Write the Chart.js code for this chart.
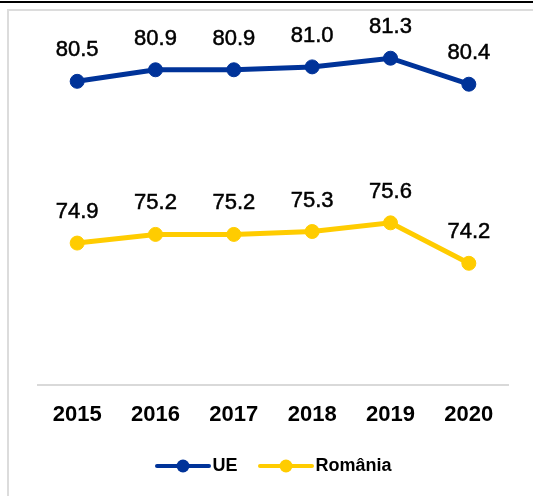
<!DOCTYPE html>
<html><head><meta charset="utf-8">
<script src="https://cdn.jsdelivr.net/npm/chart.js@4/dist/chart.umd.min.js"></script>
<style>
html,body{margin:0;padding:0;background:#fff;}
#wrap{position:relative;width:533px;height:496px;overflow:hidden;}
#topline{position:absolute;left:0;top:1px;width:533px;height:2px;background:#000;}
#frame{position:absolute;left:7px;top:9px;width:540px;height:500px;border-left:2px solid #dcdcdc;border-top:2px solid #dcdcdc;}
canvas{position:absolute;left:0;top:0;}
</style></head>
<body>
<div id="wrap">
<div id="topline"></div>
<div id="frame"></div>
<canvas id="c" width="533" height="496"></canvas>
</div>
<script>
const years = ['2015','2016','2017','2018','2019','2020'];
const ueValues = [80.5, 80.9, 80.9, 81.0, 81.3, 80.4];
const roValues = [74.9, 75.2, 75.2, 75.3, 75.6, 74.2];
const seriesNames = ['UE', 'România'];
const blue = '#003399';
const yellow = '#FFCC00';
const FONT = "'Liberation Sans', Arial, sans-serif";

function legendImg(color){
  const c = document.createElement('canvas');
  c.width = 56; c.height = 16;
  const x = c.getContext('2d');
  x.strokeStyle = color; x.lineWidth = 4; x.lineCap = 'round';
  x.beginPath(); x.moveTo(2,8); x.lineTo(54,8); x.stroke();
  x.fillStyle = color; x.beginPath(); x.arc(28,8,6.5,0,Math.PI*2); x.fill();
  return c;
}

const dataLabels = {
  id:'dataLabels',
  afterLayout(chart){
    if (chart.legend){ chart.legend.left += 4; chart.legend.right += 4; }
  },
  afterDatasetsDraw(chart){
    const ctx = chart.ctx;
    ctx.save();
    ctx.font = "22px " + FONT;
    ctx.fillStyle = '#000';
    ctx.strokeStyle = '#000';
    ctx.lineWidth = 0.5;
    ctx.textAlign = 'center';
    ctx.textBaseline = 'middle';
    chart.data.datasets.forEach((ds,i)=>{
      chart.getDatasetMeta(i).data.forEach((pt,j)=>{
        const t = ds.data[j].toFixed(1);
        ctx.fillText(t, pt.x, pt.y - 31);
        ctx.strokeText(t, pt.x, pt.y - 31);
      });
    });
    ctx.restore();
  }
};

new Chart(document.getElementById('c'), {
  type:'line',
  data:{
    labels: years,
    datasets:[
      {label:seriesNames[0], data:ueValues, borderColor:blue, backgroundColor:blue,
       pointBackgroundColor:blue, pointBorderColor:blue, borderWidth:5, pointRadius:7, pointBorderWidth:1, tension:0,
       pointStyle:'circle'},
      {label:seriesNames[1], data:roValues, borderColor:yellow, backgroundColor:yellow,
       pointBackgroundColor:yellow, pointBorderColor:yellow, borderWidth:5, pointRadius:7, pointBorderWidth:1, tension:0,
       pointStyle:'circle'}
    ]
  },
  options:{
    responsive:false,
    animation:false,
    layout:{padding:{left:38,right:25,top:38,bottom:11}},
    scales:{
      y:{display:false, min:70, max:82},
      x:{
        offset:true,
        grid:{display:false, drawTicks:false},
        border:{display:true, color:'#d9d9d9', width:2},
        ticks:{color:'#000', padding:17, font:{family:FONT, size:22, weight:'bold'}},
        afterFit(scale){ scale.height -= 16; }
      }
    },
    plugins:{
      tooltip:{enabled:false},
      legend:{
        position:'bottom',
        labels:{
          usePointStyle:true,
          pointStyleWidth:41,
          padding:28,
          color:'#000',
          font:{family:FONT, size:18, weight:'bold'},
          generateLabels(chart){
            return chart.data.datasets.map((ds,i)=>({
              text: ds.label,
              pointStyle: legendImg(ds.borderColor),
              fillStyle: ds.borderColor,
              strokeStyle: ds.borderColor,
              lineWidth:0,
              hidden:false,
              datasetIndex:i,
              fontColor:'#000'
            }));
          }
        }
      }
    }
  },
  plugins:[dataLabels]
});
</script>
</body></html>
